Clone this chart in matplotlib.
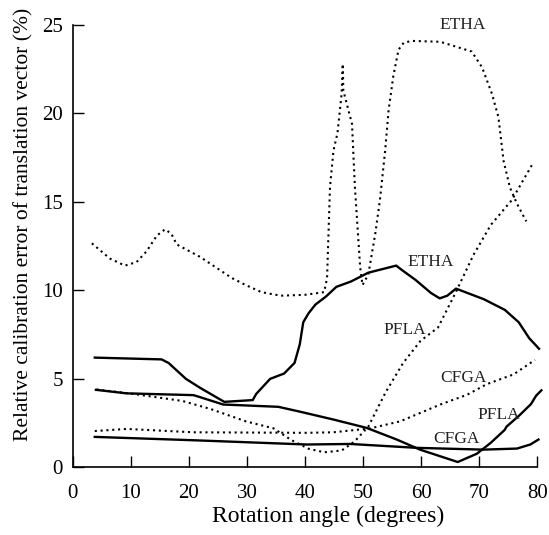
import numpy as np
import matplotlib
matplotlib.use('Agg')
import matplotlib.pyplot as plt

## data (angle in degrees, error in %)
ethaDotX = [3.3, 6.4, 9.0, 11.0, 12.7, 14.5, 15.9, 17.0, 17.9, 21.9, 27.4, 29.8, 32.5, 35.8, 40.0, 43.3,
            43.8, 44.3, 44.9, 45.6, 46.3, 46.5, 46.6, 48.1, 48.3, 48.6, 49.5, 49.9,
            50.9, 52.1, 52.9, 53.8, 54.4, 55.2, 56.1, 57.0, 58.4, 63.3, 68.7, 70.5, 72.2, 73.3, 74.2,
            75.3, 76.5, 78.1]
ethaDotY = [12.66, 11.8, 11.4, 11.6, 12.2, 13.1, 13.45, 13.2, 12.6, 11.9, 10.7, 10.3, 9.9, 9.7, 9.75, 9.9,
            10.7, 15.8, 17.9, 18.9, 21.1, 22.8, 21.3, 19.4, 17.9, 15.8, 11.3, 10.3,
            10.9, 13.2, 15.1, 17.9, 20.2, 22.1, 23.6, 24.0, 24.1, 24.05, 23.5, 22.6, 21.1, 19.8, 17.3,
            15.8, 14.9, 13.9]

ethaSolX = [3.8, 15.3, 16.5, 19.5, 21.9, 26.1, 31.0, 31.6, 34.0, 36.4, 38.2, 39.1, 39.7, 40.6, 41.8,
            43.6, 45.4, 47.9, 50.9, 55.7, 56.9, 59.0, 61.7, 63.2, 64.5, 66.0, 70.8, 74.4, 76.8, 78.6, 80.3]
ethaSolY = [6.2, 6.1, 5.9, 5.0, 4.5, 3.7, 3.8, 4.15, 5.0, 5.3, 5.9, 6.95, 8.2, 8.7, 9.2,
            9.65, 10.2, 10.5, 11.0, 11.4, 11.1, 10.6, 9.85, 9.55, 9.7, 10.1, 9.5, 8.9, 8.2, 7.3, 6.7]

pflaDotX = [4.1, 10.4, 18.9, 23.7, 29.8, 34.6, 37.6, 40.6, 43.3, 46.3, 48.5, 50.9, 53.9, 56.9, 59.9,
            62.9, 65.9, 69.0, 72.0, 75.6, 79.1]
pflaDotY = [4.4, 4.15, 3.75, 3.3, 2.6, 2.2, 1.55, 1.05, 0.85, 0.95, 1.45, 2.3, 4.25, 5.9, 7.15,
            7.9, 9.85, 12.0, 13.7, 15.1, 17.1]

pflaSolX = [4.0, 9.3, 20.8, 21.9, 25.9, 35.4, 39.2, 44.9, 50.6, 55.8, 59.8, 66.3, 69.6, 72.0, 74.4,
            74.7, 76.8, 78.9, 79.8, 80.7]
pflaSolY = [4.38, 4.18, 4.08, 3.97, 3.55, 3.42, 3.14, 2.7, 2.23, 1.57, 1.0, 0.3, 0.77, 1.39, 2.12,
            2.3, 2.9, 3.57, 4.05, 4.35]

cfgaDotX = [3.8, 9.3, 20.8, 40.3, 44.9, 51.2, 56.4, 63.3, 67.9, 71.3, 75.9, 79.6]
cfgaDotY = [2.05, 2.17, 1.98, 1.95, 1.98, 2.2, 2.6, 3.55, 4.1, 4.7, 5.25, 6.07]

cfgaSolX = [3.8, 20.8, 40.3, 47.8, 59.3, 70.7, 76.5, 78.8, 80.2]
cfgaSolY = [1.72, 1.53, 1.29, 1.32, 1.1, 1.0, 1.06, 1.29, 1.57]

labelTexts = ['ETHA', 'ETHA', 'PFLA', 'CFGA', 'PFLA', 'CFGA']
labelX = [67.1, 61.7, 57.2, 67.3, 73.4, 66.1]
labelY = [25.0, 11.63, 7.76, 5.03, 2.96, 1.6]

xTicks = [0, 10, 20, 30, 40, 50, 60, 70, 80]
yTicks = [0, 5, 10, 15, 20, 25]

plt.rcParams['font.family'] = ['Liberation Serif', 'DejaVu Serif']

fig = plt.figure(figsize=(5.49, 5.35), dpi=100)
ax = fig.add_axes([0.1324, 0.1265, 0.8463, 0.8268])

dotted = (0, (1, 1.8))
ax.plot(ethaDotX, ethaDotY, color='black', lw=1.5, linestyle=dotted, clip_on=False)
ax.plot(pflaDotX, pflaDotY, color='black', lw=1.5, linestyle=dotted, clip_on=False)
ax.plot(cfgaDotX, cfgaDotY, color='black', lw=1.5, linestyle=dotted, clip_on=False)
ax.plot(ethaSolX, ethaSolY, color='black', lw=1.7, clip_on=False)
ax.plot(pflaSolX, pflaSolY, color='black', lw=1.7, clip_on=False)
ax.plot(cfgaSolX, cfgaSolY, color='black', lw=1.7, clip_on=False)

for txt, lx, ly in zip(labelTexts, labelX, labelY):
    ax.text(lx, ly, txt, ha='center', va='center', fontsize=12.5, color='#222222')

ax.set_xlim(0, 80)
ax.set_ylim(0, 25)
ax.set_xticks(xTicks)
ax.set_yticks(yTicks)
ax.tick_params(axis='both', direction='in', length=7.7, width=1, labelsize=15)
ax.tick_params(axis='x', pad=12)
ax.tick_params(axis='y', pad=7)

ax.spines['top'].set_visible(False)
ax.spines['right'].set_visible(False)
ax.spines['left'].set_linewidth(1.2)
ax.spines['bottom'].set_linewidth(1.2)

ax.set_xlabel('Rotation angle (degrees)', fontsize=17)
ax.set_ylabel('Relative calibration error of translation vector (%)', fontsize=15.5)
ax.xaxis.set_label_coords(0.55, -0.088)
ax.yaxis.set_label_coords(-0.085, 0.55)

fig.savefig('out.png', dpi=100)
